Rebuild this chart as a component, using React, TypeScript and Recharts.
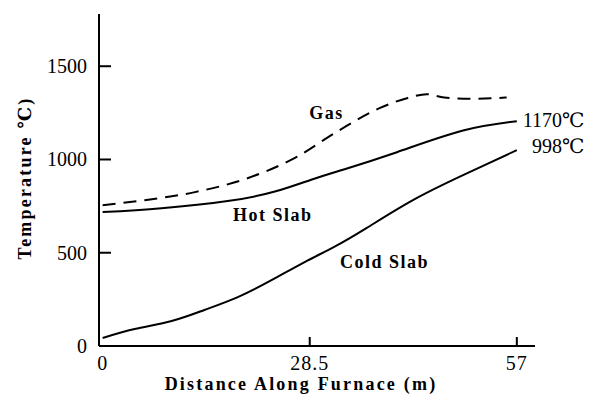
import React from 'react';
import { LineChart, Line, XAxis, YAxis, ReferenceDot } from 'recharts';

// distance along furnace (m) and temperature (°C) for each curve
const gasDistance = [0, 5.8, 12.7, 19.6, 26.4, 32.5, 38.1, 42, 44.6, 47, 50.5, 55.6];
const gasTemp = [755, 782, 825, 895, 1007, 1155, 1275, 1330, 1350, 1332, 1325, 1332];

const hotDistance = [0, 8.1, 17.2, 23.7, 28.8, 33.3, 40.5, 49.6, 57];
const hotTemp = [718, 739, 777, 828, 893, 948, 1039, 1155, 1205];

const coldDistance = [0, 4.4, 9.5, 14, 18.6, 23.3, 27.8, 31.8, 36.3, 42.7, 49.6, 57];
const coldTemp = [43, 91, 134, 193, 262, 354, 450, 530, 632, 782, 916, 1050];

const xTicks = [0, 28.5, 57];
const yTicks = [0, 500, 1000, 1500];

const toRows = (xs: number[], ys: number[]) => xs.map((d, i) => ({ d, t: ys[i] }));
const gasData = toRows(gasDistance, gasTemp);
const hotData = toRows(hotDistance, hotTemp);
const coldData = toRows(coldDistance, coldTemp);

const FONT = '"Liberation Serif", "DejaVu Serif", serif';

const XTick = (props: any) => {
  const { x, y, payload } = props;
  return (
    <g>
      {payload.value !== 0 && <line x1={x} y1={y} x2={x} y2={y - 9} stroke="#000" strokeWidth={2} />}
      <text x={x} y={y + 24} textAnchor="middle" style={{ fontFamily: FONT, fontSize: 20, letterSpacing: 1 }} fill="#000">
        {payload.value}
      </text>
    </g>
  );
};

const YTick = (props: any) => {
  const { x, y, payload } = props;
  return (
    <g>
      {payload.value !== 0 && <line x1={x} y1={y} x2={x + 12} y2={y} stroke="#000" strokeWidth={2} />}
      <text x={x - 12} y={y + 7} textAnchor="end" style={{ fontFamily: FONT, fontSize: 20 }} fill="#000">
        {payload.value}
      </text>
    </g>
  );
};

const textLabel = (text: string, anchor: string, bold: boolean) => (props: any) => {
  const { viewBox } = props;
  return (
    <text
      x={viewBox.x}
      y={viewBox.y + 6}
      textAnchor={anchor}
      style={{ fontFamily: FONT, fontSize: bold ? 18 : 20, fontWeight: bold ? 'bold' : 'normal', letterSpacing: bold ? 1.5 : 0 }}
      fill="#000"
    >
      {text}
    </text>
  );
};

export default function App() {
  return (
    <div style={{ position: 'absolute', left: 0, top: 0, background: '#fff' }}>
      <LineChart width={595} height={403} margin={{ top: 14, right: 60, bottom: 17, left: 0 }}>
        <XAxis
          type="number"
          dataKey="d"
          domain={[-0.5, 59.5]}
          ticks={xTicks}
          tick={<XTick />}
          tickLine={false}
          tickSize={0}
          tickMargin={0}
          height={40}
          axisLine={{ stroke: '#000', strokeWidth: 2 }}
          allowDuplicatedCategory={false}
        />
        <YAxis
          type="number"
          domain={[0, 1780]}
          ticks={yTicks}
          tick={<YTick />}
          tickLine={false}
          tickSize={0}
          tickMargin={0}
          width={99}
          axisLine={{ stroke: '#000', strokeWidth: 2 }}
        />
        <Line data={gasData} dataKey="t" type="monotone" stroke="#000" strokeWidth={2} strokeDasharray="13 8" dot={false} isAnimationActive={false} />
        <Line data={hotData} dataKey="t" type="natural" stroke="#000" strokeWidth={2} dot={false} isAnimationActive={false} />
        <Line data={coldData} dataKey="t" type="natural" stroke="#000" strokeWidth={2} dot={false} isAnimationActive={false} />
        <ReferenceDot x={30.8} y={1248} r={0} ifOverflow="visible" label={textLabel('Gas', 'middle', true)} />
        <ReferenceDot x={23.4} y={702} r={0} ifOverflow="visible" label={textLabel('Hot Slab', 'middle', true)} />
        <ReferenceDot x={38.8} y={450} r={0} ifOverflow="visible" label={textLabel('Cold Slab', 'middle', true)} />
        <ReferenceDot x={57.8} y={1205} r={0} ifOverflow="visible" label={textLabel('1170℃', 'start', false)} />
        <ReferenceDot x={59.1} y={1066} r={0} ifOverflow="visible" label={textLabel('998℃', 'start', false)} />
      </LineChart>
      <svg width={595} height={403} style={{ position: 'absolute', left: 0, top: 0, pointerEvents: 'none' }}>
        <text x={301} y={390} textAnchor="middle" style={{ fontFamily: FONT, fontSize: 18, fontWeight: 'bold', letterSpacing: 2.2 }} fill="#000">
          Distance Along Furnace (m)
        </text>
        <text
          transform="translate(31,178) rotate(-90)"
          textAnchor="middle"
          style={{ fontFamily: FONT, fontSize: 18, fontWeight: 'bold', letterSpacing: 2.2 }}
          fill="#000"
        >
          Temperature ℃)
        </text>
      </svg>
    </div>
  );
}
